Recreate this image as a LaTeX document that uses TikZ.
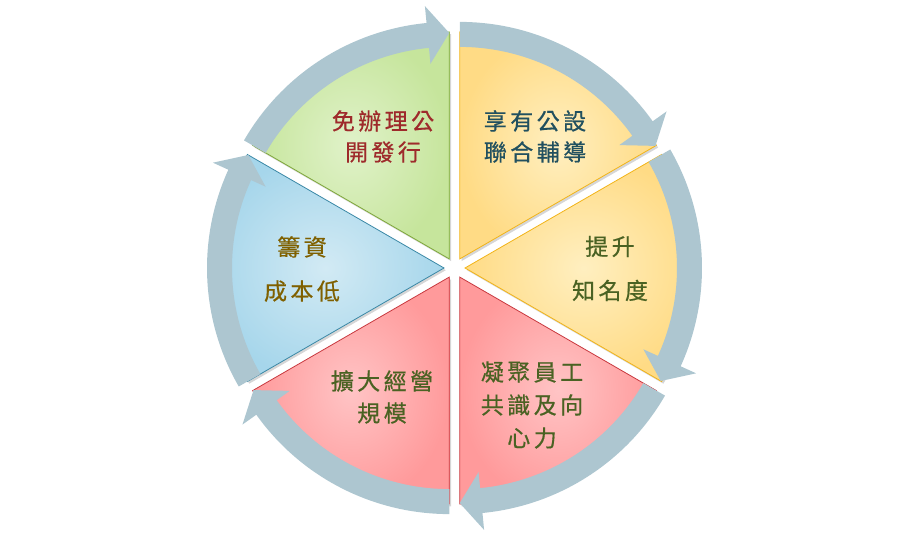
\documentclass[tikz,border=0pt]{standalone}
\usepackage{fontspec}
\newfontfamily\cjk{Noto Sans CJK TC}[LetterSpace=15,FakeBold=0.6]
\definecolor{arrowc}{HTML}{ADC6D0}
\definecolor{grA}{HTML}{E0F2C9}\definecolor{grB}{HTML}{C6E59C}\definecolor{grL}{HTML}{7FA83A}
\definecolor{yeA}{HTML}{FFEFC0}\definecolor{yeB}{HTML}{FFDB85}\definecolor{yeL}{HTML}{F2B418}
\definecolor{reA}{HTML}{FFC4C5}\definecolor{reB}{HTML}{FF9A9B}\definecolor{reL}{HTML}{C8383E}
\definecolor{blA}{HTML}{D2EAF4}\definecolor{blB}{HTML}{A6D6EB}\definecolor{blL}{HTML}{3A88A6}
\definecolor{txR}{HTML}{9E2A2B}
\definecolor{txT}{HTML}{21505F}
\definecolor{txG}{HTML}{4A6223}
\definecolor{txB}{HTML}{7F6000}
\tikzset{
  seglabel/.style={font=\cjk\fontsize{23}{31}\selectfont, align=center, inner sep=0pt},
  segshade/.style={line width=0.8pt},
  segshadow/.style={fill=black, opacity=0.16},
  ringarrow/.style={fill=arrowc}
}
\begin{document}
\begin{tikzpicture}[x=1pt,y=1pt]
\useasboundingbox (0,0) rectangle (910,541);
\coordinate (C) at (454.5,273);
% wedges
\foreach \b/\fa/\fb/\ln in {120/grA/grB/grL, 60/yeA/yeB/yeL, 0/yeA/yeB/yeL, -60/reA/reB/reL, -120/reA/reB/reL, 180/blA/blB/blL} {
  \begin{scope}[shift={(C)}, shift={(\b:10.5)}]
    \pgfmathsetmacro\lo{\b-30}
    \pgfmathsetmacro\hi{\b+30}
    \fill[segshadow] (1.8,-2.2) -- ++(\lo:227) arc[start angle=\lo, end angle=\hi, radius=227] -- cycle;
    \shadedraw[segshade, inner color=\fa, outer color=\fb, draw=\ln] (0,0) -- (\lo:227) arc[start angle=\lo, end angle=\hi, radius=227] -- cycle;
  \end{scope}
}
% circular arrows
\foreach \b in {120,60,0,-60,-120,180} {
  \begin{scope}[shift={(C)}, shift={(\b:10.5)}]
    \pgfmathsetmacro\lo{\b-30}
    \pgfmathsetmacro\hi{\b+30}
    \pgfmathsetmacro\hb{\b-24.5}
    \fill[ringarrow] (\hi:212) arc[start angle=\hi, end angle=\hb, radius=212] -- (\hb:196) -- (\lo:226) -- (\hb:254) -- (\hb:237) arc[start angle=\hb, end angle=\hi, radius=237] -- cycle;
  \end{scope}
}
% labels
\node[seglabel, text=txR] (t1) at (383,404.5) {免辦理公\\開發行};
\node[seglabel, text=txT] (t2) at (535,404.5) {享有公設\\聯合輔導};
\node[seglabel, text=txG] (t3) at (610,272.5) {提升\\[13pt]知名度};
\node[seglabel, text=txG] (t4) at (532,136) {凝聚員工\\[2pt]共識及向\\[2pt]心力};
\node[seglabel, text=txG] (t5) at (382,144) {擴大經營\\[1pt]規模};
\node[seglabel, text=txB] (t6) at (302,272) {籌資\\[13pt]成本低};
\end{tikzpicture}
\end{document}
